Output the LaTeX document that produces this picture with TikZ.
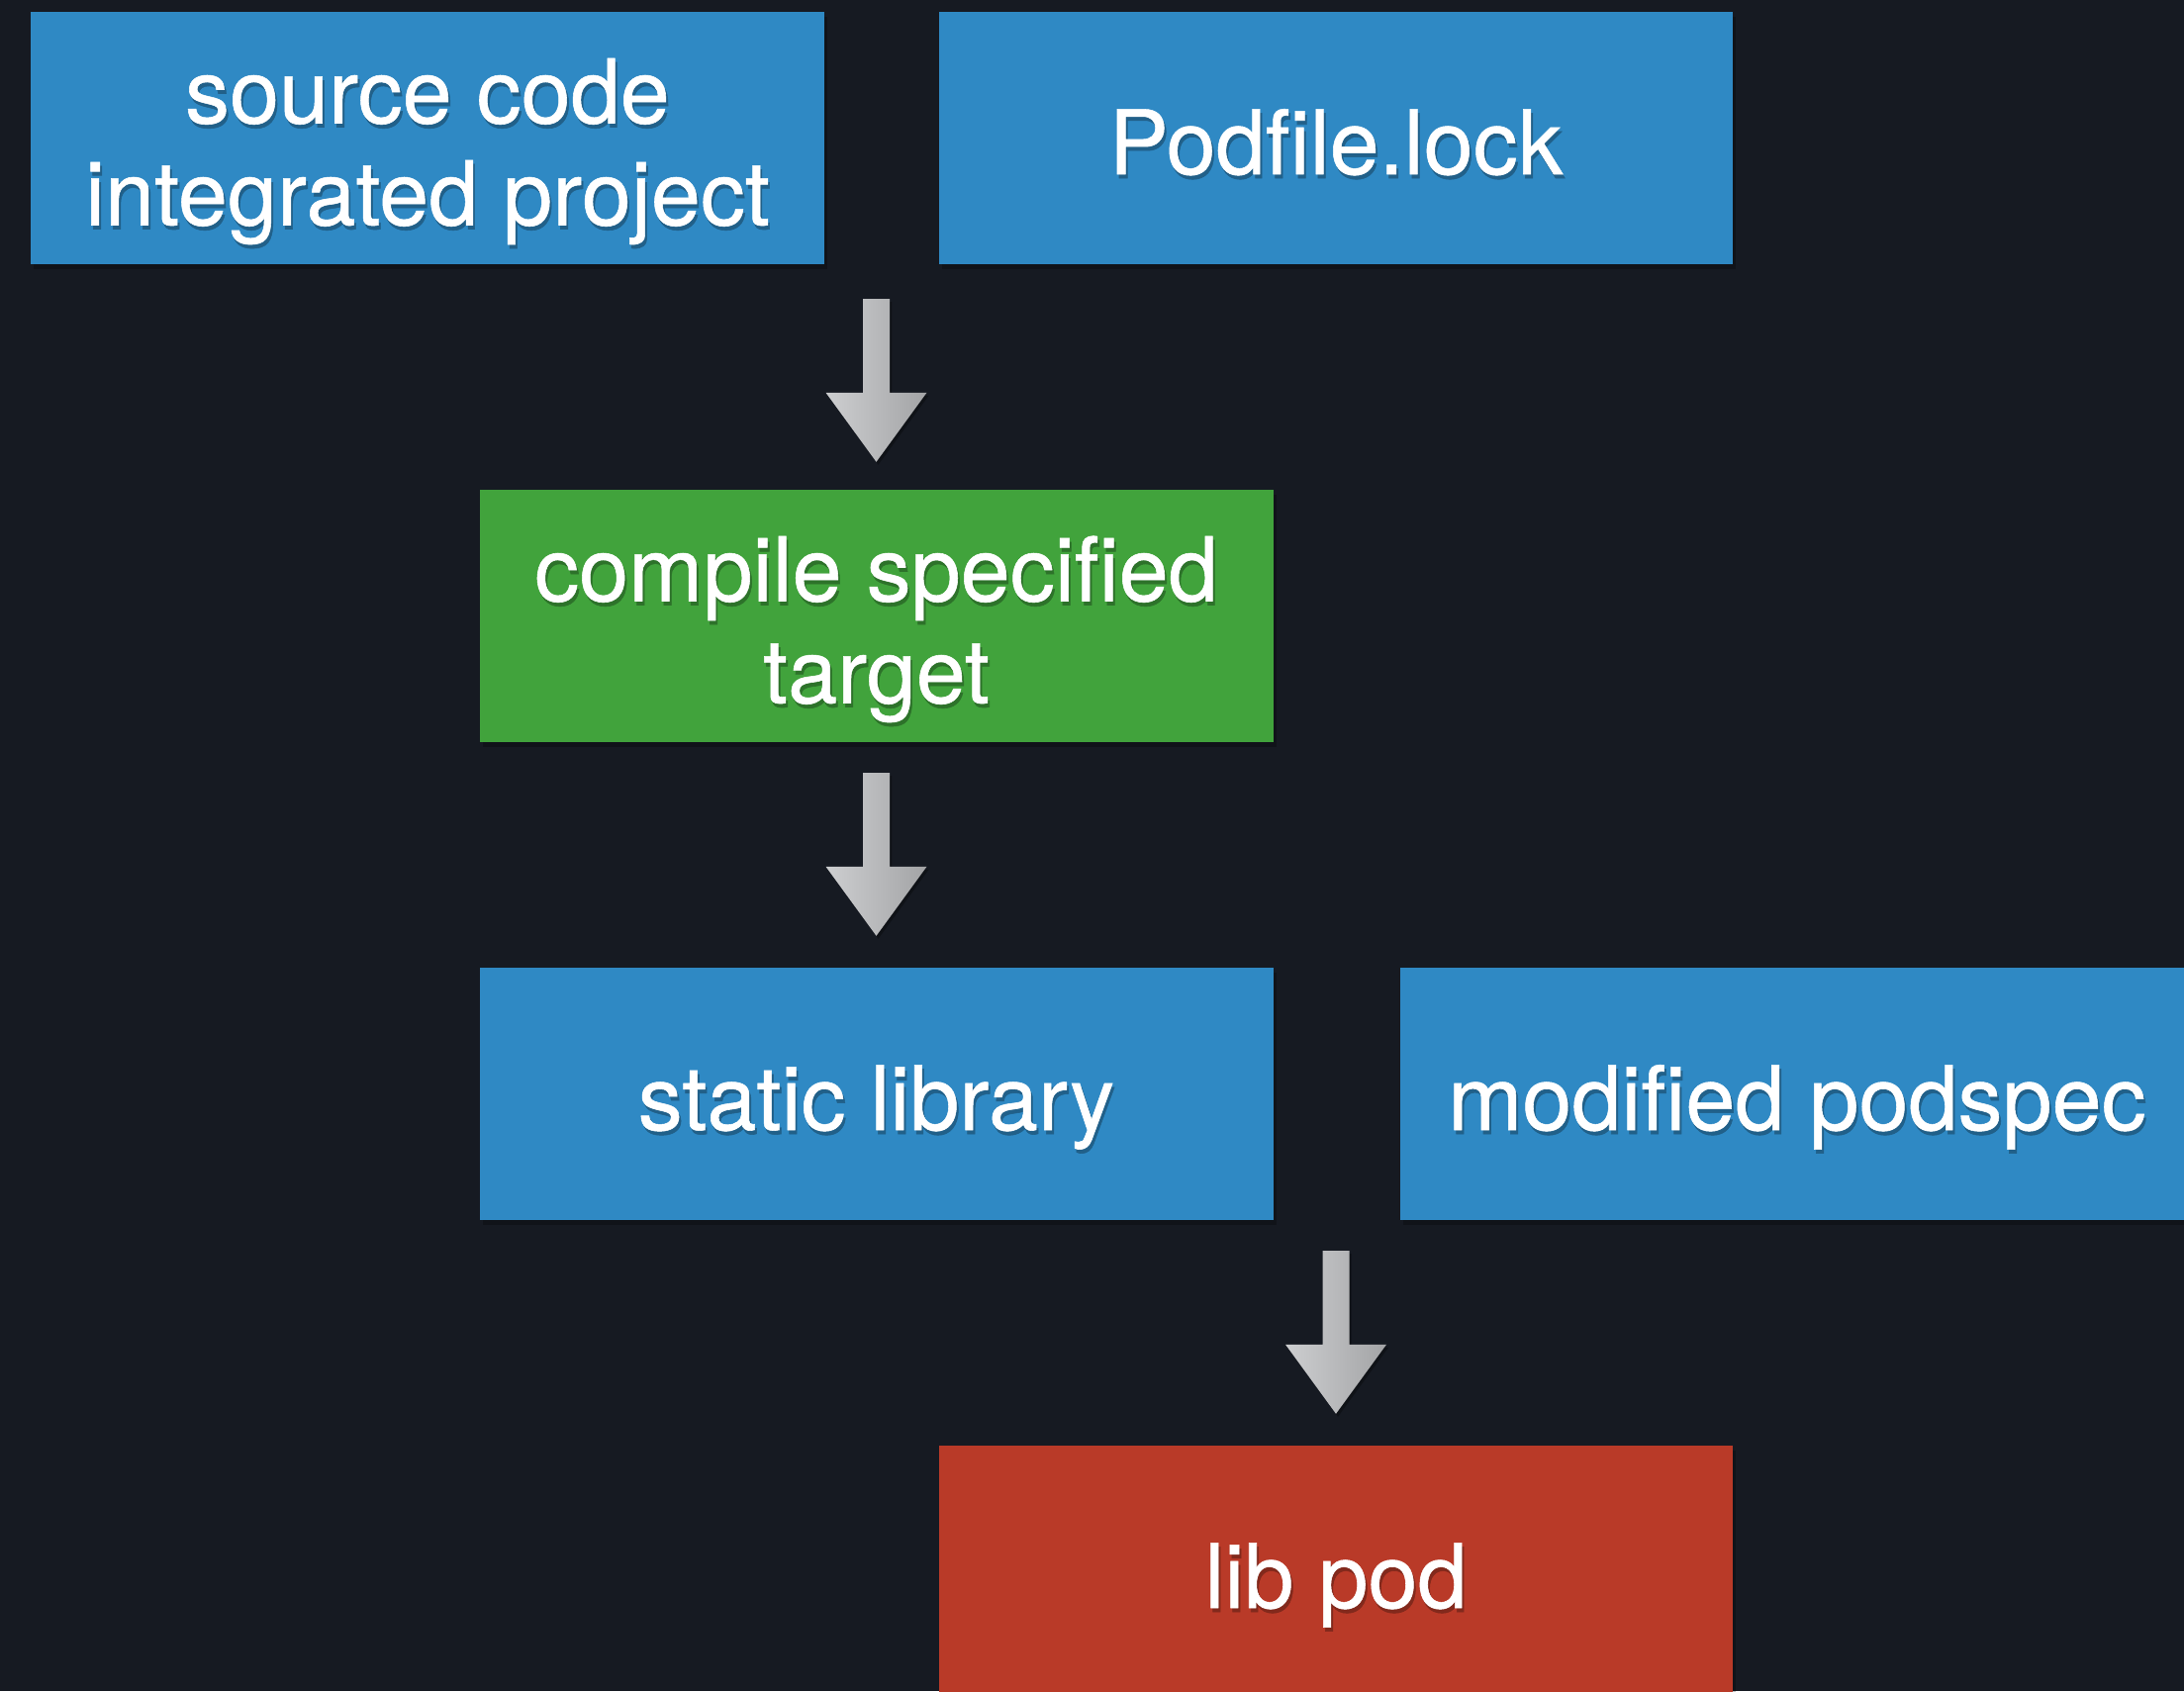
\documentclass[tikz,border=0pt]{standalone}
\usepackage{fontspec}
\setmainfont{TeX Gyre Heros}
\newfontfamily\boxfont[FakeBold=0.6]{TeX Gyre Heros}
\usetikzlibrary{calc,shadows}
\definecolor{bgc}{HTML}{161A22}
\definecolor{bluec}{HTML}{2F89C4}
\definecolor{greenc}{HTML}{41A33C}
\definecolor{redc}{HTML}{B93A28}
\definecolor{arrl}{HTML}{CDCED0}
\definecolor{arrr}{HTML}{A3A4A6}
\newcommand\sht[1]{\leavevmode\rlap{\hspace{2pt}\raisebox{-4pt}{\color{shc}#1}}#1}
\newcommand\blockarr[2]{%
  \path[arrowfill] ($(#1)+(-13.5,0)$) -- ($(#1)+(13.5,0)$) -- ($(#2)+(13.5,-70)$)
    -- ($(#2)+(51,-70)$) -- (#2) -- ($(#2)+(-51,-70)$) -- ($(#2)+(-13.5,-70)$) -- cycle;}
\tikzset{
  boxbase/.style={rectangle, inner sep=0pt, minimum width=802pt, minimum height=255pt,
    align=center, text=white, font=\boxfont\fontsize{90}{103}\selectfont,
    text height=73pt, text depth=0pt,
    drop shadow={shadow xshift=3pt, shadow yshift=-5pt, opacity=0.25, fill=black}},
  twoline/.style={text height=176pt},
  bluebox/.style={boxbase, fill=bluec, execute at begin node=\colorlet{shc}{bluec!70!black}},
  greenbox/.style={boxbase, fill=greenc, execute at begin node=\colorlet{shc}{greenc!70!black}},
  redbox/.style={boxbase, fill=redc, execute at begin node=\colorlet{shc}{redc!70!black}},
  arrowfill/.style={left color=arrl, right color=arrr, shading angle=90,
    drop shadow={shadow xshift=2pt, shadow yshift=-3pt, opacity=0.3, fill=black}},
}
\begin{document}
\begin{tikzpicture}[x=1pt,y=-1pt]
\useasboundingbox (0,0) rectangle (2207,1709);
\clip (0,0) rectangle (2207,1709);
\fill[bgc] (0,0) rectangle (2207,1709);
\node[bluebox, twoline] (A) at (432,139.5) {\sht{source code}\\\sht{integrated project}};
\node[bluebox] (B) at (1350,139.5) {\sht{Podfile.lock}};
\node[greenbox, twoline] (C) at (885.5,622.5) {\sht{compile specified}\\\sht{target}};
\node[bluebox] (D) at (885.5,1105.5) {\sht{static library}};
\node[bluebox] (E) at (1816,1105.5) {\sht{modified podspec}};
\node[redbox] (F) at (1350,1588.5) {\sht{lib pod}};
\coordinate (a1s) at ($(C.north |- A.south)+(0,35)$);
\coordinate (a1e) at ($(C.north)+(0,-28)$);
\coordinate (a2s) at ($(C.south)+(0,31)$);
\coordinate (a2e) at ($(D.north)+(0,-32)$);
\coordinate (a3s) at ($(F.north |- D.south)+(0,31)$);
\coordinate (a3e) at ($(F.north)+(0,-32)$);
\blockarr{a1s}{a1e}
\blockarr{a2s}{a2e}
\blockarr{a3s}{a3e}
\end{tikzpicture}
\end{document}
